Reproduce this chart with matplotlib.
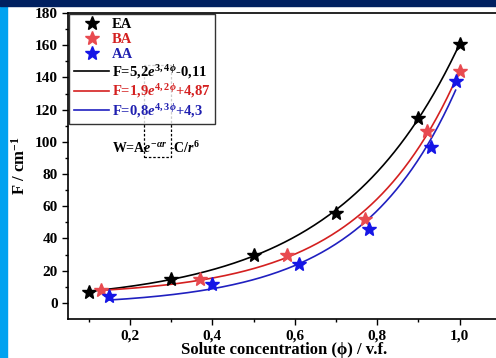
import numpy as np
import matplotlib
matplotlib.use("Agg")
import matplotlib.pyplot as plt
from matplotlib.patches import Rectangle
from matplotlib.lines import Line2D

# Data
ea_x = [0.10, 0.30, 0.50, 0.70, 0.90, 1.00]
ea_y = [7, 15, 30, 56, 115, 161]
ba_x = [0.13, 0.37, 0.58, 0.77, 0.92, 1.00]
ba_y = [8, 15, 30, 52, 107, 144]
aa_x = [0.15, 0.40, 0.61, 0.78, 0.93, 0.99]
aa_y = [4, 12, 24, 46, 97, 138]
series_names = ["EA", "BA", "AA"]
fit_rates = [3.4, 4.2, 4.3]
fit_labels = [r"F=5,2$e^{3,4\phi}$-0,11", r"F=1,9$e^{4,2\phi}$+4,87", r"F=0,8$e^{4,3\phi}$+4,3"]
xticks = [0.2, 0.4, 0.6, 0.8, 1.0]
xticklabels = ["0,2", "0,4", "0,6", "0,8", "1,0"]
yticks = [0, 20, 40, 60, 80, 100, 120, 140, 160, 180]

plt.rcParams["font.family"] = ["Liberation Serif", "DejaVu Serif"]
plt.rcParams["font.weight"] = "bold"
plt.rcParams["mathtext.fontset"] = "custom"
plt.rcParams["mathtext.rm"] = "Liberation Serif:bold"
plt.rcParams["mathtext.it"] = "Liberation Serif:italic:bold"
plt.rcParams["mathtext.bf"] = "Liberation Serif:bold"

def expfit(x, y, b):
    x = np.asarray(x, float); y = np.asarray(y, float)
    A = np.vstack([np.exp(b * x), np.ones_like(x)]).T
    coef, *_ = np.linalg.lstsq(A, y, rcond=None)
    return coef[0], b, coef[1]

fig = plt.figure(figsize=(4.96, 3.58), dpi=100)
ax = fig.add_axes([68/496, 1-319/358, 1.01 - 68/496, (319-13)/358])

mcol = ["black", "#E84A50", "#1515E6"]
lcol = ["black", "#D42020", "#2020C0"]
xs_all = [ea_x, ba_x, aa_x]
ys_all = [ea_y, ba_y, aa_y]
handles = []
for xs, ys, mc, lc, nm, rate in zip(xs_all, ys_all, mcol, lcol, series_names, fit_rates):
    a, b, c = expfit(xs, ys, rate)
    xx = np.linspace(min(xs), max(xs), 200)
    ax.plot(xx, a*np.exp(b*xx)+c, color=lc, lw=1.2, zorder=2)
    ax.plot(xs, ys, ls="none", marker="*", ms=10, color=mc, zorder=3)
    handles.append(Line2D([], [], ls="none", marker="*", ms=10, color=mc, label=nm))
for lc, lab in zip(lcol, fit_labels):
    handles.append(Line2D([], [], color=lc, lw=1.2, label=lab))

leg = ax.legend(handles=handles, loc="upper left", bbox_to_anchor=(0.003, 0.998),
                frameon=True, fancybox=False, edgecolor="black", fontsize=10.5,
                handlelength=2.45, handletextpad=0.15, labelspacing=0.12,
                borderpad=0.3, borderaxespad=0)
leg.get_frame().set_linewidth(1.0)
for t, c in zip(leg.get_texts(), ["black", "#D42020", "#2020B0", "black", "#D42020", "#2020B0"]):
    t.set_color(c)

ax.text(0.157, 96, r"W=A$e^{-\alpha r}$ -C/$r^{6}$", fontsize=10, ha="left", va="center")
ax.add_patch(Rectangle((0.235, 90.5), 0.066, 57.5, fill=False, ls=(0, (2, 1.5)), lw=0.9,
                       edgecolor="black", zorder=5))

ax.set_xlim(0.05, 1.1)
ax.set_ylim(-10, 180)
ax.set_xticks(xticks)
ax.set_xticklabels(xticklabels)
ax.set_xticks([0.1, 0.3, 0.5, 0.7, 0.9], minor=True)
ax.set_yticks(yticks)
ax.set_yticks(np.arange(10, 180, 20), minor=True)
ax.tick_params(axis="both", which="major", direction="out", length=4, width=1, labelsize=11)
ax.tick_params(axis="both", which="minor", direction="out", length=2.5, width=1)
for sp in ax.spines.values():
    sp.set_linewidth(1.2)
ax.spines["right"].set_visible(False)
ax.set_xlabel("Solute concentration (ϕ) / v.f.", fontsize=12, fontweight="bold", labelpad=0)
ax.set_ylabel(r"F / cm$^{-1}$", fontsize=12, fontweight="bold", labelpad=4)

# Decorative frame bars
fig.patches.append(Rectangle((0, 0), 7/496, 1, transform=fig.transFigure, color="#00A2F0", zorder=10))
fig.patches.append(Rectangle((0, 1-6/358), 1, 6/358, transform=fig.transFigure, color="#002060", zorder=10))

fig.savefig("out.png", dpi=100)
